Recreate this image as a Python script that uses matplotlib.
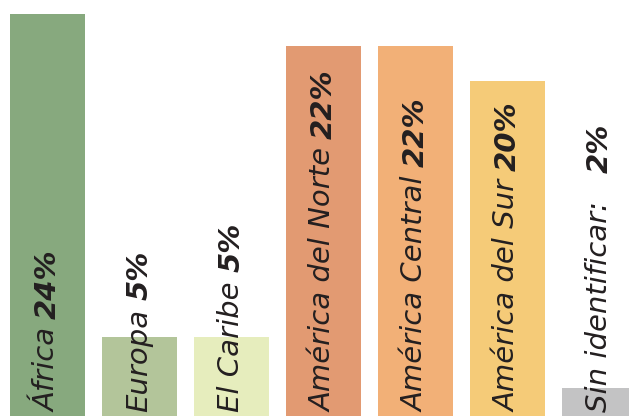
import matplotlib.pyplot as plt

import matplotlib as mpl
mpl.rcParams['figure.dpi'] = 100

regions = ["África", "Europa", "El Caribe", "América del Norte",
           "América Central", "América del Sur", "Sin identificar:  "]
pct_labels = ["24%", "5%", "5%", "22%", "22%", "20%", "2%"]
# bar heights
values = [24.0, 4.7, 4.7, 22.1, 22.1, 20.0, 1.7]
colors = ["#87a97e", "#b3c59a", "#e6edbd", "#e29a72", "#f2b077", "#f5cb78", "#c3c3c4"]

f = plt.figure(figsize=(6.29, 4.16))
ax = f.add_axes([0, 0, 1, 1])
ax.set_axis_off()

x = list(range(len(values)))
ax.bar(x, values, width=0.815, color=colors)
ax.set_xlim(-0.516, 6.321)
ax.set_ylim(0, 24.84)

text_opts = dict(family="DejaVu Sans", style="italic", size=21, color="#231f20",
                 rotation=90, ha="center", va="bottom")

f.canvas.draw()
r = f.canvas.get_renderer()
inv = ax.transData.inverted()
for xi, name, pct in zip(x, regions, pct_labels):
    t = ax.text(xi, 0.25, name, **text_opts)
    bb = t.get_window_extent(r)
    top = inv.transform((0, bb.y1 + 9))[1]
    ax.text(xi, top, pct, weight="bold", **text_opts)

f.savefig("out.png")
